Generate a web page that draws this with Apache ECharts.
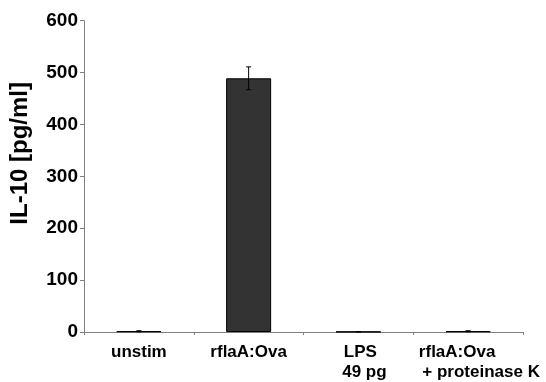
<!DOCTYPE html>
<html>
<head>
<meta charset="utf-8">
<script src="https://cdn.jsdelivr.net/npm/echarts@6/dist/echarts.min.js"></script>
<style>html,body{margin:0;padding:0;background:#fff}#c{width:546px;height:382px}</style>
</head>
<body>
<div id="c"></div>
<script>
const categories = ['unstim', 'rflaA:Ova', 'LPS\n49 pg', 'rflaA:Ova\n+ proteinase K'];
const values = [1.5, 489, 0.5, 1.5];
const errors = [1, 22, 0, 1];
const yTicks = [0, 100, 200, 300, 400, 500, 600];
const yTitle = 'IL-10 [pg/ml]';

const FONT = '"Liberation Sans", Arial, sans-serif';
const chart = echarts.init(document.getElementById('c'), null, {renderer: 'canvas'});
// per-line horizontal nudges of the category labels (layout only)
const lineShift = {2: [2, 6], 3: [-11, 13]};
chart.setOption({
  animation: false,
  backgroundColor: '#ffffff',
  grid: {left: 84, right: 23, top: 20.7, bottom: 48.7, containLabel: false},
  xAxis: {
    type: 'category',
    data: categories,
    axisLine: {lineStyle: {color: '#808080', width: 1}},
    axisTick: {show: true, length: 3, lineStyle: {color: '#808080'}},
    axisLabel: {
      margin: 10,
      interval: 0,
      color: '#000',
      fontFamily: FONT,
      fontWeight: 'bold',
      fontSize: 17,
      lineHeight: 20,
      formatter: function (v, i) {
        const lines = v.split('\n');
        return lines.map(function (l, k) {
          const s = (lineShift[i] || [0, 0])[k] || 0;
          return '{' + (s >= 0 ? 'r' : 'l') + Math.abs(s) + '|' + l + '}';
        }).join('\n');
      },
      rich: (function () {
        const r = {};
        [0, 2, 6, 11, 13].forEach(function (s) {
          r['r' + s] = {fontFamily: FONT, fontWeight: 'bold', fontSize: 17, lineHeight: 20, color: '#000', padding: [0, 0, 0, 2 * s]};
          r['l' + s] = {fontFamily: FONT, fontWeight: 'bold', fontSize: 17, lineHeight: 20, color: '#000', padding: [0, 2 * s, 0, 0]};
        });
        return r;
      })()
    },
    splitLine: {show: false}
  },
  yAxis: {
    type: 'value',
    min: yTicks[0],
    max: yTicks[yTicks.length - 1],
    interval: 100,
    name: yTitle,
    nameLocation: 'middle',
    nameGap: 52,
    nameRotate: 90,
    nameTextStyle: {color: '#000', fontFamily: FONT, fontWeight: 'bold', fontSize: 24, padding: [0, 0, 0, 46]},
    axisLine: {show: true, lineStyle: {color: '#808080', width: 1}},
    axisTick: {show: true, length: 4, lineStyle: {color: '#808080'}},
    axisLabel: {margin: 6, color: '#000', fontFamily: FONT, fontWeight: 'bold', fontSize: 19},
    splitLine: {show: false}
  },
  series: [
    {
      type: 'bar',
      data: values,
      barWidth: 45,
      itemStyle: {color: '#333333', borderColor: '#000000', borderWidth: 1},
      z: 2
    },
    {
      type: 'custom',
      data: values.map(function (v, i) { return [i, v - errors[i], v + errors[i]]; }),
      z: 3,
      renderItem: function (params, api) {
        const x = api.value(0);
        const lo = api.coord([x, api.value(1)]);
        const hi = api.coord([x, api.value(2)]);
        const hw = 2.5;
        const st = {stroke: '#000', lineWidth: 1};
        return {
          type: 'group',
          children: [
            {type: 'line', shape: {x1: lo[0], y1: lo[1], x2: hi[0], y2: hi[1]}, style: st},
            {type: 'line', shape: {x1: hi[0] - hw, y1: hi[1], x2: hi[0] + hw, y2: hi[1]}, style: st},
            {type: 'line', shape: {x1: lo[0] - hw, y1: lo[1], x2: lo[0] + hw, y2: lo[1]}, style: st}
          ]
        };
      }
    }
  ]
});
</script>
</body>
</html>
